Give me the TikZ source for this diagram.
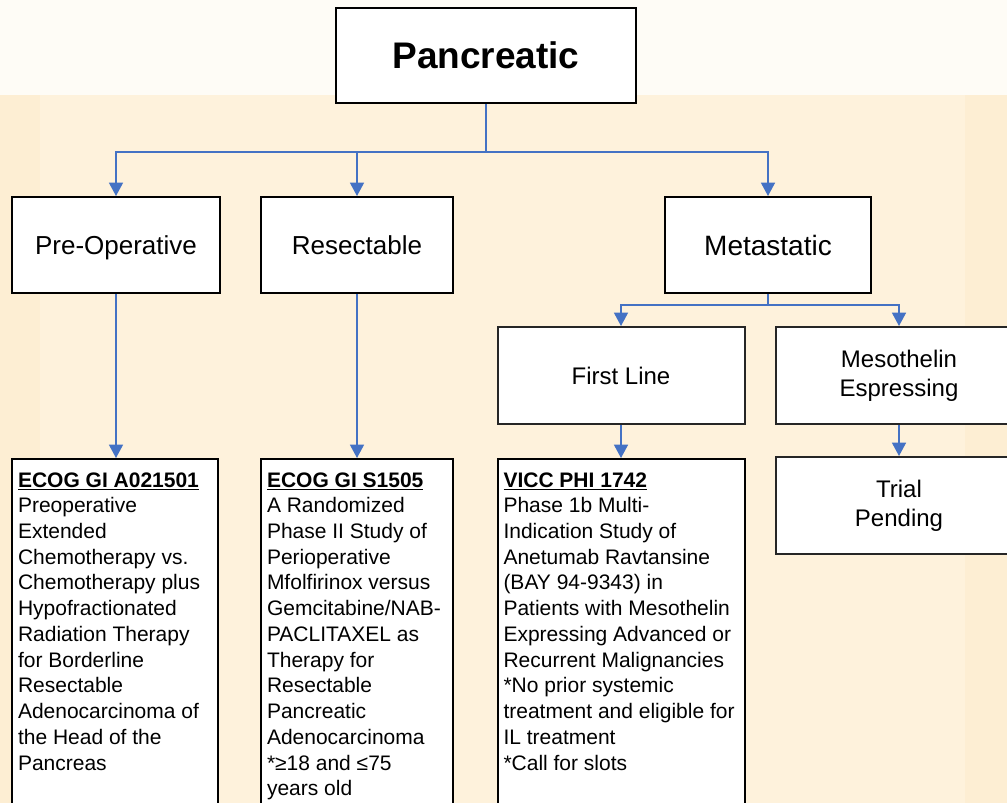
\documentclass[tikz,border=0pt]{standalone}
\usepackage{fontspec}
\setmainfont{Liberation Sans}
\usepackage{xcolor}
\usetikzlibrary{arrows.meta,positioning,calc}
\definecolor{linkblue}{HTML}{4472C4}
\definecolor{bgtop}{HTML}{FEFCF6}
\definecolor{bgcream}{HTML}{FEF2DC}
\definecolor{bgmark}{HTML}{FDEED3}
\tikzset{
  topbox/.style={rectangle,draw=black,line width=1.5pt,fill=white,minimum width=225pt,
                 minimum height=71.25pt,font=\fontsize{27.75pt}{32pt}\selectfont\bfseries},
  catbox/.style={rectangle,draw=black,line width=1.5pt,fill=white,minimum height=72pt,
                 text depth=0pt,font=\fontsize{19.5pt}{23pt}\selectfont},
  subbox/.style={rectangle,draw=black!85,line width=1.5pt,fill=white,minimum width=185.25pt,
                 minimum height=72.75pt,align=center,font=\fontsize{18pt}{22pt}\selectfont},
  trialbox/.style={rectangle,draw=black,line width=1.5pt,fill=white,anchor=north,
                   inner xsep=4.5pt,inner ysep=10pt,font=\fontsize{15.75pt}{19.3pt}\selectfont},
  arr/.style={-{Triangle[length=10pt,width=10.5pt]},draw=linkblue,line width=1.1pt},
}
\newcommand{\trialtext}[2]{\parbox[t][251pt][t]{#1}{\raggedright #2}}

\begin{document}
\begin{tikzpicture}[x=0.75pt,y=-0.75pt]
  % --- background ---
  \useasboundingbox (0,0) rectangle (1007,803);
  \clip (0,0) rectangle (1007,803);
  \fill[bgcream] (0,0) rectangle (1007,803);
  \fill[bgtop] (0,0) rectangle (1007,95);
  \fill[bgmark] (0,95) rectangle (40,803);
  \fill[bgmark] (965,95) rectangle (1007,803);
  % --- nodes (pixel coordinates) ---
  \node[topbox] (panc) at (486,55.5) {Pancreatic};
  \node[catbox,minimum width=156pt] (preop)  at (116,245) {Pre-Operative};
  \node[catbox,minimum width=144pt] (resect) at (357,245) {Resectable};
  \node[catbox,minimum width=154.5pt,font=\fontsize{21pt}{25pt}\selectfont] (meta) at (768,245) {Metastatic};
  \node[subbox] (first) at (621,375.5) {First Line};
  \node[subbox] (meso)  at (899,375.5) {Mesothelin\\Espressing};
  \node[subbox] (pend)  at (899,505.5) {Trial\\Pending};
  \node[trialbox] (ecoga) at (115,458) {\trialtext{145.5pt}{%
    \underline{\textbf{ECOG GI A021501}}\\
    Preoperative\\ Extended\\ Chemotherapy vs.\\ Chemotherapy plus\\
    Hypofractionated\\ Radiation Therapy\\ for Borderline\\ Resectable\\
    Adenocarcinoma of\\ the Head of the\\ Pancreas}};
  \node[trialbox] (ecogs) at (357,458) {\trialtext{135pt}{%
    \underline{\textbf{ECOG GI S1505}}\\
    A Randomized\\ Phase II Study of\\ Perioperative\\ Mfolfirinox versus\\
    Gemcitabine/NAB-\\ PACLITAXEL as\\ Therapy for\\ Resectable\\ Pancreatic\\
    Adenocarcinoma\\ {*}≥18 and ≤75\\ years old}};
  \node[trialbox] (vicc) at (621,458) {\trialtext{176.25pt}{%
    \underline{\textbf{VICC PHI 1742}}\\
    Phase 1b Multi-\\ Indication Study of\\ Anetumab Ravtansine\\ (BAY 94-9343) in\\
    Patients with Mesothelin\\ Expressing Advanced or\\ Recurrent Malignancies\\
    {*}No prior systemic\\ treatment and eligible for\\ IL treatment\\ {*}Call for slots}};
  \coordinate (bus)  at (486,152);
  \coordinate (mbus) at (768,305);
  % --- connectors ---
  \draw[arr] (panc.south) -- (bus) -| (preop.north);
  \draw[arr] (panc.south) -- (bus) -| (resect.north);
  \draw[arr] (panc.south) -- (bus) -| (meta.north);
  \draw[arr] (meta.south) -- (mbus) -| (first.north);
  \draw[arr] (meta.south) -- (mbus) -| (meso.north);
  \draw[arr] (preop.south) -- (ecoga.north -| preop.south);
  \draw[arr] (resect.south) -- (ecogs.north);
  \draw[arr] (first.south) -- (vicc.north);
  \draw[arr] (meso.south) -- (pend.north);
\end{tikzpicture}
\end{document}
